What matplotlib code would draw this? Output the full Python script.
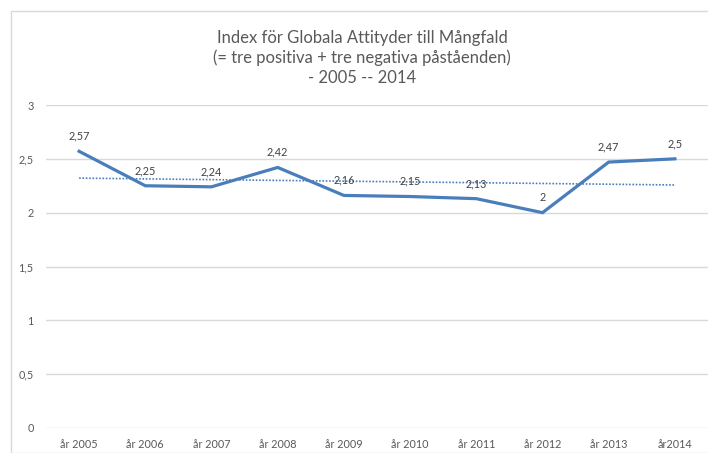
import numpy as np
import matplotlib.pyplot as plt
from matplotlib.patches import Rectangle

plt.rcParams['font.family'] = ['Lato', 'DejaVu Sans']

# data
years = ["år 2005", "år 2006", "år 2007", "år 2008", "år 2009",
         "år 2010", "år 2011", "år 2012", "år 2013", "år2014"]
index_values = [2.57, 2.25, 2.24, 2.42, 2.16, 2.15, 2.13, 2.0, 2.47, 2.5]
y_ticks = [0, 0.5, 1, 1.5, 2, 2.5, 3]

W, H = 708, 453
fig = plt.figure(figsize=(W / 100, H / 100), dpi=100)

# chart frame
fig.patches.append(Rectangle((11 / W, 0), 1, 1 - 11 / H, transform=fig.transFigure,
                             fill=False, edgecolor="#d9d9d9", linewidth=1))

ax = fig.add_axes([46 / W, 25 / H, (W - 46) / W, 323 / H])

x = np.arange(len(years))
blue = "#4a7ebb"
ax.plot(x, index_values, color=blue, linewidth=2.3, solid_joinstyle="miter", zorder=3)

# linear trend line
k, m = np.polyfit(x, index_values, 1)
ax.plot(x, k * x + m, color=blue, linewidth=1.2, linestyle=(0, (1, 1)), zorder=2)

def fmt(v):
    s = ("%.2f" % v).rstrip("0").rstrip(".")
    return s.replace(".", ",")

for xi, v in zip(x, index_values):
    ax.annotate(fmt(v), (xi, v), xytext=(0, 7), textcoords="offset points",
                ha="center", va="bottom", fontsize=7.8, color="#404040")

ax.set_xlim(-0.5, len(years) - 0.5)
ax.set_ylim(0, 3)
ax.set_yticks(y_ticks)
ax.set_yticklabels([fmt(t) for t in y_ticks])
ax.set_xticks(x)
ax.set_xticklabels(years)
ax.tick_params(axis="both", length=0, labelsize=7.8, colors="#595959")
ax.tick_params(axis="y", pad=9)
ax.tick_params(axis="x", pad=8)
ax.grid(axis="y", color="#d9d9d9", linewidth=1)
ax.set_axisbelow(True)
for s in ax.spines.values():
    s.set_visible(False)

fig.text(0.5 + 8 / W, 1 - 58 / H,
         "Index för Globala Attityder till Mångfald\n(= tre positiva + tre negativa påståenden)\n- 2005 -- 2014",
         ha="center", va="center", fontsize=12,
         color="#595959", linespacing=1.3)

fig.savefig("out.png", dpi=100)
